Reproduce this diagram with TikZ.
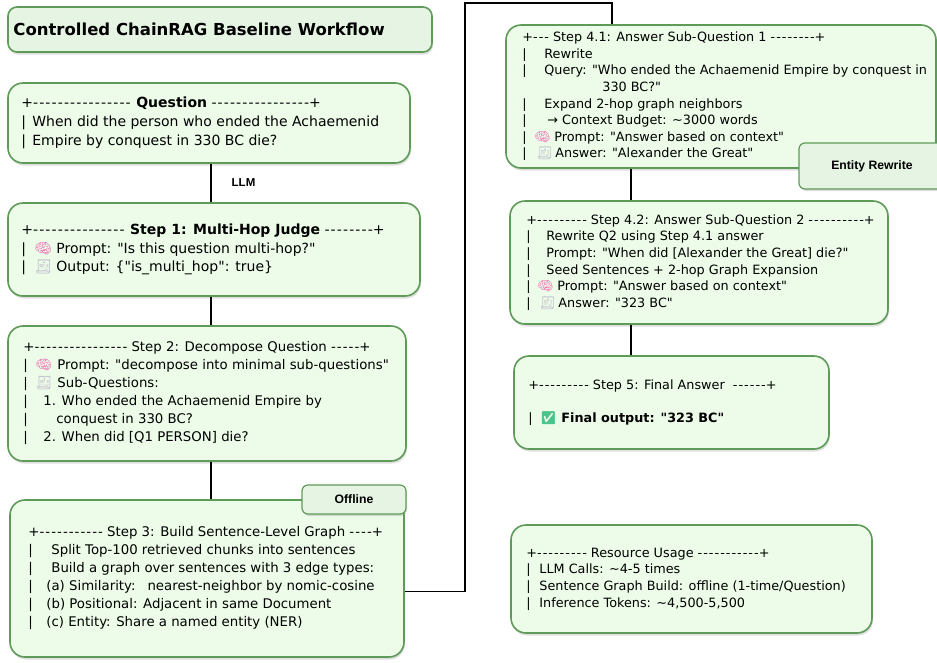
\documentclass[tikz,border=0pt]{standalone}
\usepackage{fontspec}
\usetikzlibrary{shadows}
\newfontfamily\boxfont{DejaVu Sans}
\newfontfamily\tagfont{Liberation Sans}
\newfontfamily\emojifont{Noto Emoji}
\definecolor{boxfill}{RGB}{237,252,233}
\definecolor{tabfill}{RGB}{230,244,228}
\definecolor{boxline}{RGB}{94,155,88}
\definecolor{brainpink}{RGB}{240,110,180}
\definecolor{pagegray}{RGB}{180,172,198}
\definecolor{checkgreen}{RGB}{76,195,138}
\newcommand\brainicon{\textcolor{brainpink}{\emojifont 🧠}}
\newcommand\pageicon{\textcolor{pagegray}{\emojifont 🧾}}
\newcommand\checkicon{\textcolor{checkgreen}{\emojifont ✅}}
\newcommand\pipe[1]{\makebox[#1pt][l]{|}}
\newcommand\iconat[2]{\makebox[#1pt][l]{#2}}
\newcommand\rulebar[1]{{\addfontfeatures{LetterSpace=8}#1}}
\newcommand\tld{\textasciitilde}
\tikzset{
  stepbox/.style={draw=boxline, line width=1.6pt, fill=boxfill, rounded corners=15pt,
    drop shadow={opacity=0.25, shadow xshift=1pt, shadow yshift=-2.5pt}},
  titlebox/.style={stepbox, fill=tabfill, rounded corners=9pt},
  tagbox/.style={draw=boxline, line width=1.2pt, fill=tabfill, rounded corners=6pt,
    drop shadow={opacity=0.25, shadow xshift=1pt, shadow yshift=-2pt},
    font=\tagfont\bfseries\fontsize{12.2}{14}\selectfont},
  tagtext/.style={font=\tagfont\bfseries\fontsize{11.5}{13}\selectfont, inner sep=0pt},
  titletext/.style={anchor=west, inner sep=0pt, font=\boxfont\bfseries\fontsize{16.5}{19}\selectfont},
  bigtext/.style={anchor=west, align=left, inner sep=0pt, font=\boxfont\fontsize{14}{18.7}\selectfont},
  midtext/.style={anchor=west, align=left, inner sep=0pt, font=\boxfont\fontsize{13.3}{18}\selectfont},
  smalltext/.style={anchor=west, align=left, inner sep=0pt, font=\boxfont\fontsize{12.8}{16.6}\selectfont},
  link/.style={line width=1.4pt}
}
\begin{document}
\begin{tikzpicture}[x=1pt, y=-1pt]
\useasboundingbox (0,0) rectangle (937,662);
% turning points of the connectors
\coordinate (lspine) at (211,0);
\coordinate (rspine) at (631,0);
\coordinate (rise) at (465,3);
\coordinate (drop) at (612,3);

% left column
\node[titlebox, minimum width=424pt, minimum height=45pt] (title) at (220,29.5) {};
\node[titletext] (titletext) at ([xshift=6pt]title.west) {Controlled ChainRAG Baseline Workflow};

\node[stepbox, minimum width=402pt, minimum height=80pt] (q) at (209,123) {};
\node[bigtext] (qtext) at ([xshift=14pt]q.west) {+\rulebar{----------------} \textbf{Question} \rulebar{----------------}+\\
\pipe{11}When did the person who ended the Achaemenid\\
\pipe{11}Empire by conquest in 330 BC die?};

\node[stepbox, minimum width=412pt, minimum height=93pt] (s1) at (214,249.5) {};
\node[bigtext] (s1text) at ([xshift=14pt]s1.west) {+\rulebar{---------------} \textbf{Step 1: Multi-Hop Judge} \rulebar{--------}+\\
\pipe{13}\iconat{22}{\brainicon}Prompt: "Is this question multi-hop?"\\
\pipe{13}\iconat{22}{\pageicon}Output: \{"is\_multi\_hop": true\}};

\node[stepbox, minimum width=398pt, minimum height=135pt] (s2) at (207,393.5) {};
\node[midtext] (s2text) at ([xshift=16pt]s2.west) {+\rulebar{----------------} Step 2: Decompose Question \rulebar{-----}+\\
\pipe{12}\iconat{22}{\brainicon}Prompt: "decompose into minimal sub-questions"\\
\pipe{12}\iconat{22}{\pageicon}Sub-Questions:\\
\pipe{20}1. Who ended the Achaemenid Empire by\\
\pipe{33}conquest in 330 BC?\\
\pipe{20}2. When did [Q1 PERSON] die?};

\node[stepbox, minimum width=394pt, minimum height=157pt] (s3) at (207,578.5) {};
\node[midtext] (s3text) at ([xshift=19pt]s3.west) {+\rulebar{-----------} Step 3: Build Sentence-Level Graph \rulebar{----}+\\
\pipe{23}Split Top-100 retrieved chunks into sentences\\
\pipe{23}Build a graph over sentences with 3 edge types:\\
\pipe{18}(a) Similarity:\hspace{12pt}nearest-neighbor by nomic-cosine\\
\pipe{18}(b) Positional: Adjacent in same Document\\
\pipe{18}(c) Entity: Share a named entity (NER)};
\node[tagbox, minimum width=104pt, minimum height=29pt] (offline) at (354,499.5) {Offline};

% right column
\node[stepbox, minimum width=430pt, minimum height=143pt] (s41) at (721,96.5) {};
\node[smalltext] (s41text) at ([xshift=17pt]s41.west) {+\rulebar{---} Step 4.1: Answer Sub-Question 1 \rulebar{--------}+\\
\pipe{22}Rewrite\\
\pipe{22}Query: "Who ended the Achaemenid Empire by conquest in\\
\hspace{80pt}330 BC?"\\
\pipe{22}Expand 2-hop graph neighbors\\
\pipe{25}→ Context Budget: \tld3000 words\\
\pipe{12}\iconat{20}{\brainicon}Prompt: "Answer based on context"\\
\pipe{14}\iconat{19}{\pageicon}Answer: "Alexander the Great"};
\node[tagbox, minimum width=146pt, minimum height=46pt] (entity) at (872,166) {Entity Rewrite};

\node[stepbox, minimum width=378pt, minimum height=123pt] (s42) at (699,262.5) {};
\node[smalltext] (s42text) at ([xshift=17pt]s42.west) {+\rulebar{---------} Step 4.2: Answer Sub-Question 2 \rulebar{----------}+\\
\pipe{20}Rewrite Q2 using Step 4.1 answer\\
\pipe{20}Prompt: "When did [Alexander the Great] die?"\\
\pipe{20}Seed Sentences + 2-hop Graph Expansion\\
\pipe{11}\iconat{20}{\brainicon}Prompt: "Answer based on context"\\
\pipe{13}\iconat{19}{\pageicon}Answer: "323 BC"};

\node[stepbox, minimum width=315pt, minimum height=93pt] (s5) at (671.5,402.5) {};
\node[smalltext] (s5text) at ([xshift=15pt]s5.west) {+\rulebar{---------} Step 5: Final Answer \ \rulebar{------}+\\[17pt]
\pipe{12}\iconat{21}{\checkicon}\textbf{Final output: "323 BC"}};

\node[stepbox, minimum width=361pt, minimum height=108pt] (res) at (691.5,579) {};
\node[smalltext] (restext) at ([xshift=16pt]res.west) {+\rulebar{---------} Resource Usage \rulebar{-----------}+\\
\pipe{13}LLM Calls: \tld4-5 times\\
\pipe{13}Sentence Graph Build: offline (1-time/Question)\\
\pipe{13}Inference Tokens: \tld4,500-5,500};

% connectors
\draw[link] (q.south -| lspine) -- node[tagtext, right=20pt] (llm) {LLM} (s1.north -| lspine);
\draw[link] (s1.south -| lspine) -- (s2.north -| lspine);
\draw[link] (s2.south -| lspine) -- (s3.north -| lspine);
\draw[link] ([yshift=-13pt]s3.east) -| (rise) -- (drop) -- (drop |- s41.north);
\draw[link] (s41.south -| rspine) -- (s42.north -| rspine);
\draw[link] (s42.south -| rspine) -- (s5.north -| rspine);
\end{tikzpicture}
\end{document}
